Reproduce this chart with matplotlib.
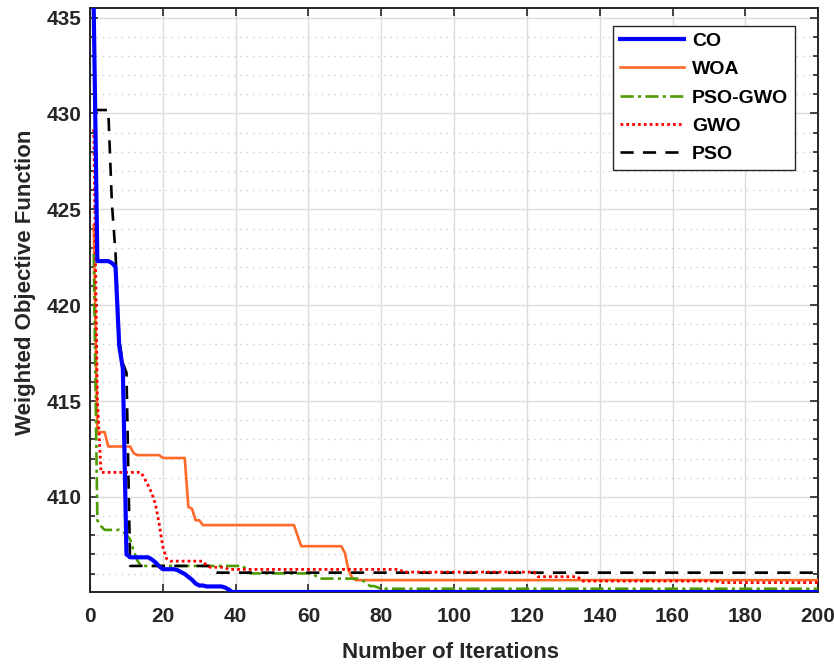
import numpy as np
import matplotlib
matplotlib.use('Agg')
from matplotlib import pyplot as plt
from matplotlib.ticker import MultipleLocator

plt.rcParams['font.family'] = ['Liberation Sans', 'DejaVu Sans']
plt.rcParams['font.weight'] = 'bold'

n_iter = 200

# step data: iteration where a new best value starts, and that value
co_start = [1, 2, 6, 7, 8, 9, 10, 11, 17, 18, 19, 20, 24, 25, 26, 27, 28, 29, 30, 32, 37, 38, 39]
co_vals = [435.5, 422.3, 422.2, 422.0, 417.9, 416.7, 407.0, 406.85, 406.73, 406.58, 406.38,
           406.23, 406.18, 406.08, 405.98, 405.83, 405.68, 405.48, 405.38, 405.33, 405.28, 405.18, 405.04]

woa_start = [1, 2, 5, 12, 13, 20, 27, 28, 29, 31, 57, 58, 70, 71, 72, 73]
woa_vals = [424.18, 413.38, 412.63, 412.28, 412.18, 412.03, 409.48, 409.38, 408.78, 408.53, 407.98,
            407.43, 407.08, 406.18, 405.78, 405.66]

psogwo_start = [1, 2, 3, 4, 9, 10, 11, 12, 13, 14, 43, 44, 62, 63, 75, 76, 77, 79, 80]
psogwo_vals = [422.68, 408.78, 408.48, 408.28, 408.18, 408.03, 407.78, 407.18, 406.68, 406.4, 406.18,
               406.01, 405.88, 405.74, 405.63, 405.46, 405.35, 405.28, 405.21]

gwo_start = [1, 2, 3, 15, 16, 17, 18, 19, 20, 21, 22, 32, 33, 38, 86, 123, 135, 173]
gwo_vals = [429.18, 415.18, 411.28, 410.93, 410.58, 410.18, 409.58, 408.58, 407.38, 406.78, 406.65,
            406.43, 406.33, 406.22, 406.08, 405.84, 405.61, 405.53]

pso_start = [1, 6, 7, 8, 9, 10, 11, 34, 35]
pso_vals = [430.18, 425.28, 422.68, 418.18, 416.98, 416.48, 406.4, 406.18, 406.05]


def expand(starts, vals):
    counts = np.diff(starts + [n_iter + 1])
    return np.repeat(vals, counts)


iters = np.arange(1, n_iter + 1)

fig = plt.figure(figsize=(8.34, 6.7), dpi=100)
ax = fig.add_axes([0.108, 0.1164, 0.873, 0.8716])

ax.plot(iters, expand(co_start, co_vals), color='#0000ff', lw=3.0, label='CO', zorder=6)
ax.plot(iters, expand(woa_start, woa_vals), color='#ff6a2b', lw=1.9, label='WOA', zorder=3)
ax.plot(iters, expand(psogwo_start, psogwo_vals), color='#4d9c00', lw=1.9, ls=(0, (5, 1.6, 1.2, 1.6)),
        label='PSO-GWO', zorder=4)
ax.plot(iters, expand(gwo_start, gwo_vals), color='#ff0000', lw=2.0, ls=(0, (1, 1.1)), label='GWO', zorder=5)
ax.plot(iters, expand(pso_start, pso_vals), color='black', lw=1.9, ls=(0, (5, 3.5)), label='PSO', zorder=4)

ax.set_xlim(0, 200)
ax.set_ylim(405.04, 435.5)
ax.xaxis.set_major_locator(MultipleLocator(20))
ax.yaxis.set_major_locator(MultipleLocator(5))
ax.yaxis.set_minor_locator(MultipleLocator(1))

ax.grid(which='major', color='#dcdcdc', lw=1.0, ls='-')
ax.grid(which='minor', axis='y', color='#c8c8c8', lw=0.9, ls=(0, (1, 4)))
ax.set_axisbelow(True)

ax.tick_params(which='both', direction='in', top=True, right=True, colors='#262626', width=1.2)
ax.tick_params(which='major', length=6, labelsize=15)
ax.tick_params(which='minor', length=3.5)
ax.tick_params(axis='x', pad=11)
ax.tick_params(axis='y', pad=6)
for s in ax.spines.values():
    s.set_color('#262626')
    s.set_linewidth(1.4)

ax.set_xlabel('Number of Iterations', fontsize=16, fontweight='bold', color='#262626')
ax.set_ylabel('Weighted Objective Function', fontsize=16, fontweight='bold', color='#262626')
ax.xaxis.set_label_coords(0.495, -0.085)
ax.yaxis.set_label_coords(-0.074, 0.53)

leg = ax.legend(loc='upper right', bbox_to_anchor=(0.968, 0.97), borderaxespad=0, fontsize=14,
                handlelength=3.3, handletextpad=0.4, labelspacing=0.55, borderpad=0.35,
                fancybox=False, framealpha=1)
leg.get_frame().set_edgecolor('#262626')
leg.get_frame().set_linewidth(1.0)
for t in leg.get_texts():
    t.set_fontweight('bold')

fig.savefig('out.png', dpi=100)
